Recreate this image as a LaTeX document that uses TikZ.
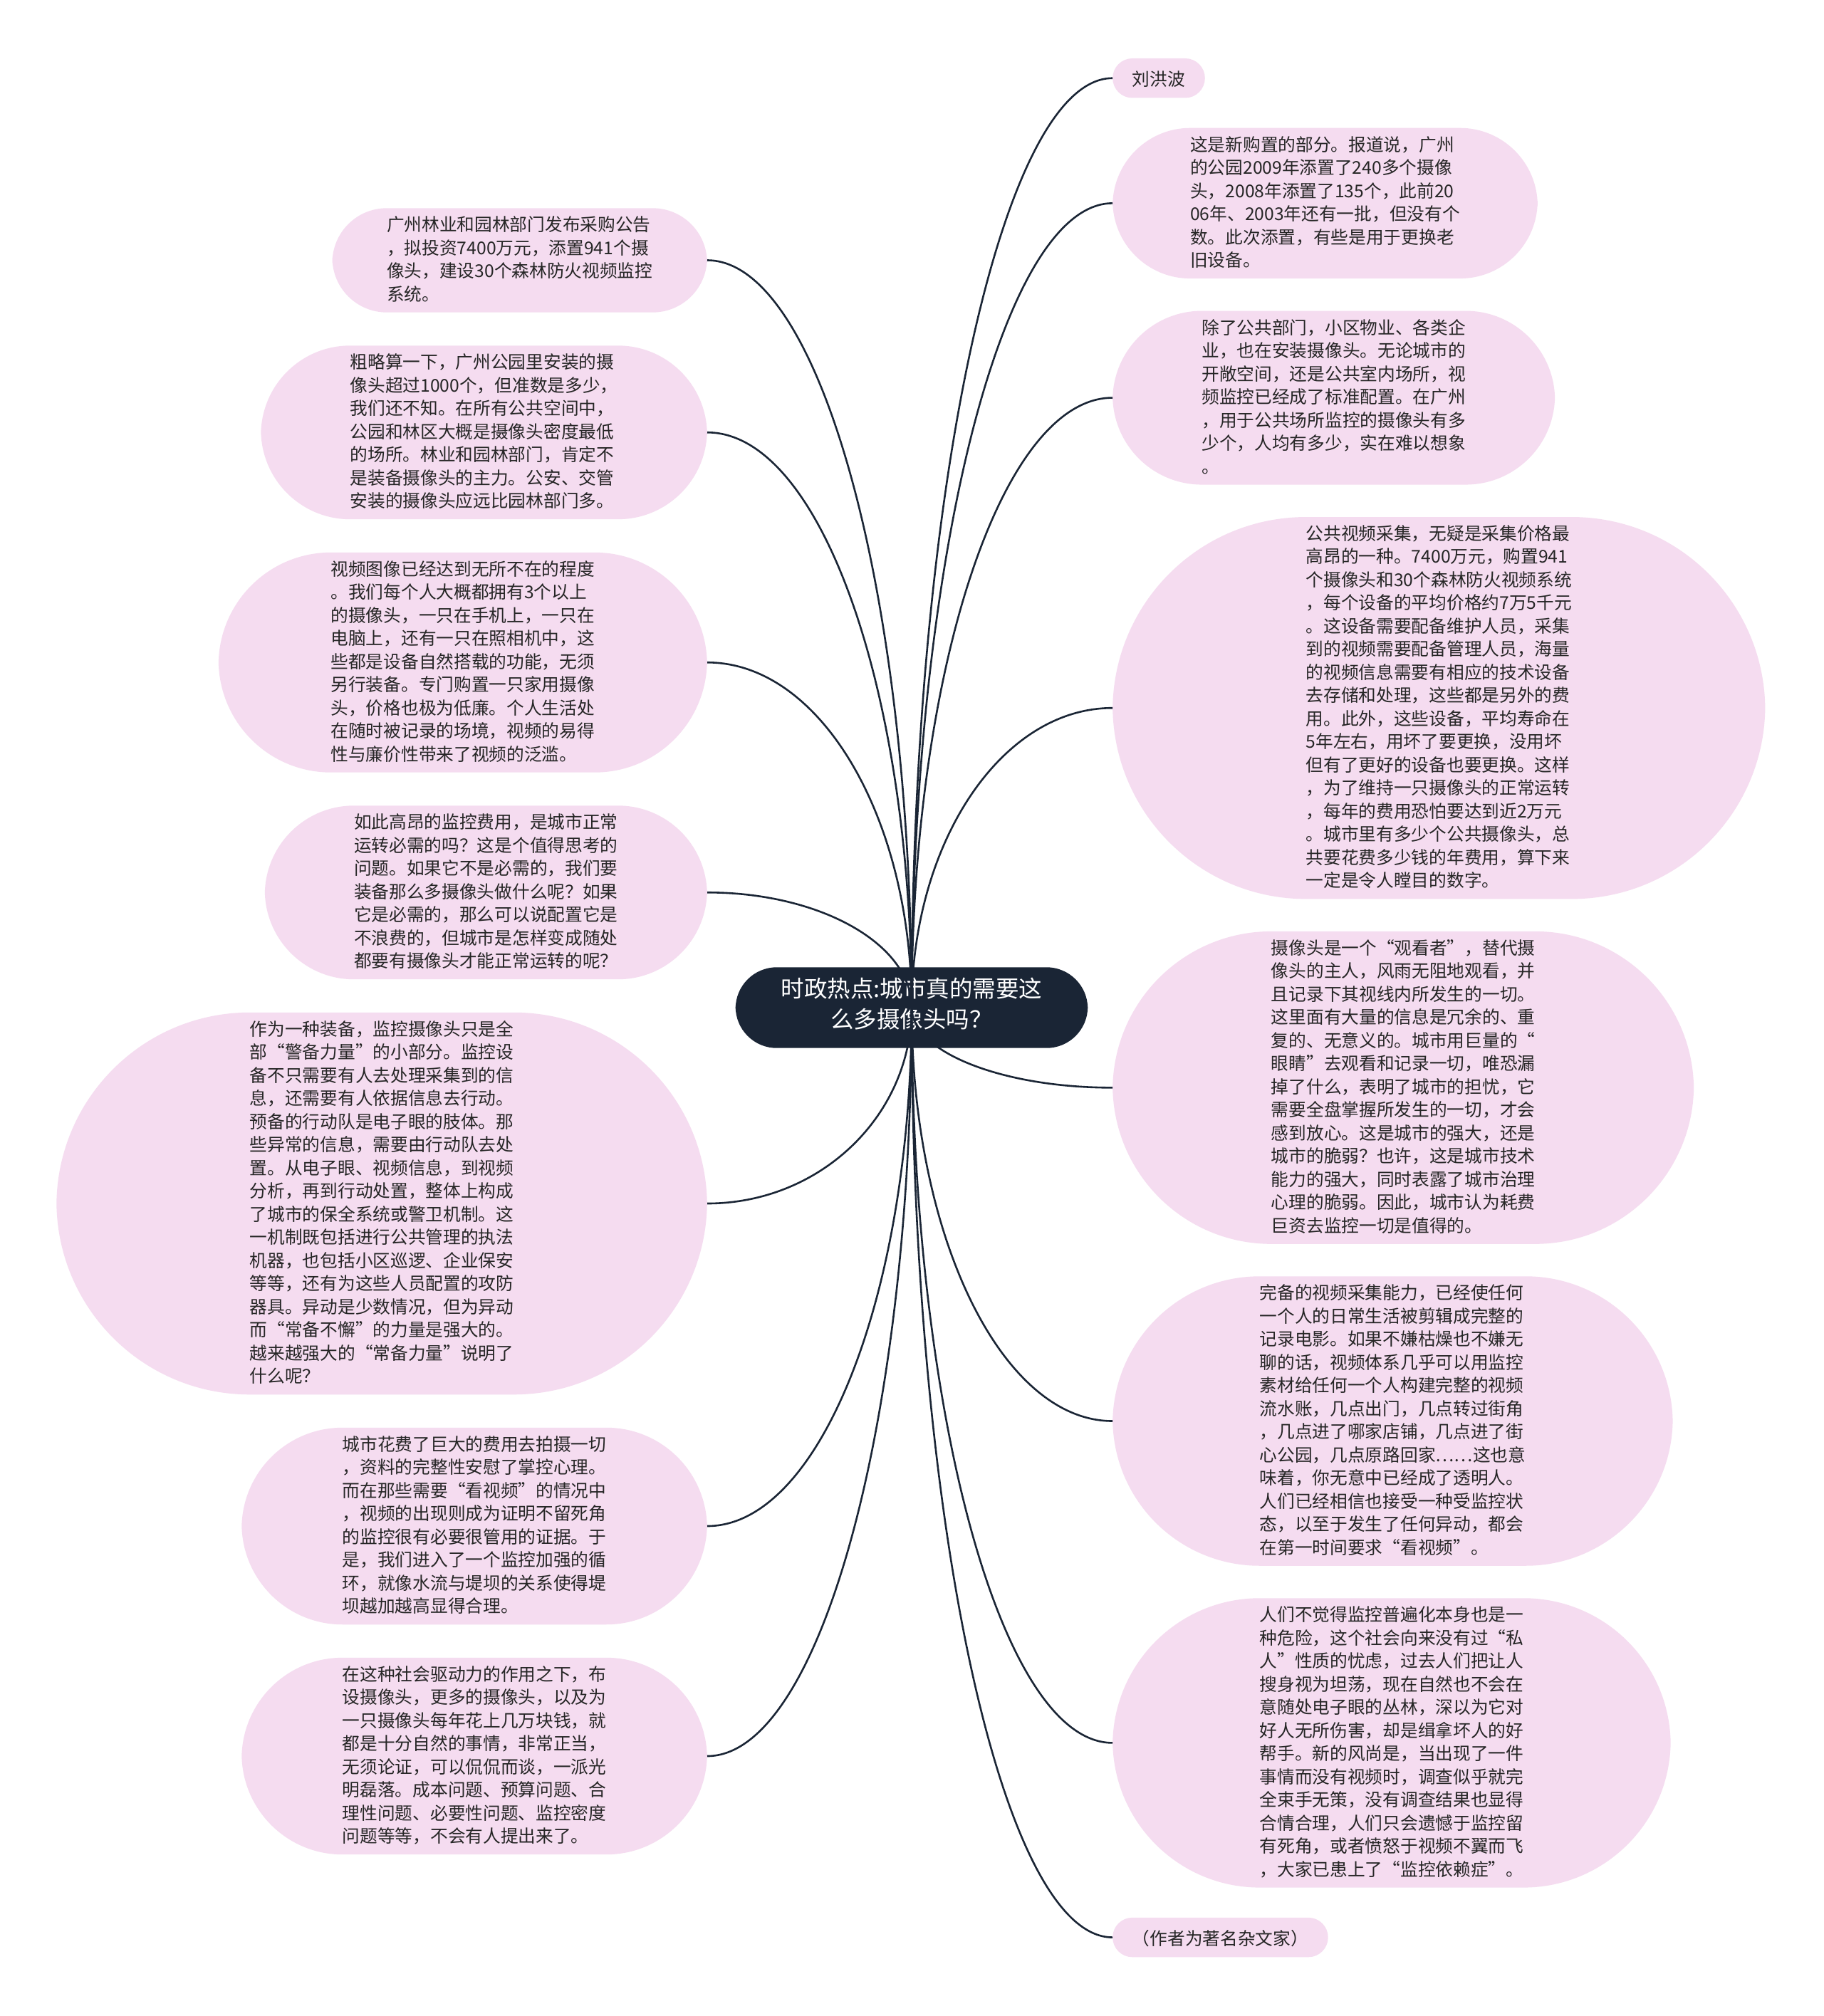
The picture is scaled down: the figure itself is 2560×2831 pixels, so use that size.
\documentclass[tikz,border=0pt]{standalone}
\usepackage{fontspec}
\newfontfamily\cjk{Noto Sans CJK SC}
\usetikzlibrary{calc}
\definecolor{pinkfill}{RGB}{245,220,240}
\definecolor{navy}{RGB}{26,37,53}
\definecolor{txt}{RGB}{38,38,38}
\newcommand\leaftop{\rule{0pt}{27.5pt}}
\newcommand\leafbot{\rule[-5pt]{0pt}{5pt}}
\begin{document}
\begin{tikzpicture}[x=1pt,y=-1pt,
  leaf/.style={rectangle, fill=pinkfill, draw=none, inner ysep=11.5pt,
    align=left, text=txt, font=\cjk\fontsize{24.7}{32.5}\selectfont,
    execute at begin node=\leaftop, execute at end node=\leafbot},
  pad/.style={inner xsep=#1, rounded corners=#1},
  rootbox/.style={rectangle, rounded corners=58pt, fill=navy, draw=none, text=white, align=center,
    font=\cjk\fontsize{32.5}{43}\selectfont, inner xsep=64pt, inner ysep=15pt,
    execute at begin node=\strut, execute at end node=\strut},
  conn/.style={draw=navy, line width=2.6pt}]
\fill[white] (0,0) rectangle (2560,2831);
\useasboundingbox (0,0) rectangle (2560,2831);

\node[rootbox] (root) at (1280,1415) {时政热点:城市真的需要这\\么多摄像头吗？};

% left column
\node[leaf, pad=76.5pt, anchor=east] (L1) at (993,365.5) {广州林业和园林部门发布采购公告\\，拟投资7400万元，添置941个摄\\像头，建设30个森林防火视频监控\\系统。};
\node[leaf, pad=125.25pt, anchor=east] (L2) at (993,607.25) {粗略算一下，广州公园里安装的摄\\像头超过1000个，但准数是多少，\\我们还不知。在所有公共空间中，\\公园和林区大概是摄像头密度最低\\的场所。林业和园林部门，肯定不\\是装备摄像头的主力。公安、交管\\安装的摄像头应远比园林部门多。};
\node[leaf, pad=157.75pt, anchor=east] (L3) at (993,930.25) {视频图像已经达到无所不在的程度\\。我们每个人大概都拥有3个以上\\的摄像头，一只在手机上，一只在\\电脑上，还有一只在照相机中，这\\些都是设备自然搭载的功能，无须\\另行装备。专门购置一只家用摄像\\头，价格也极为低廉。个人生活处\\在随时被记录的场境，视频的易得\\性与廉价性带来了视频的泛滥。};
\node[leaf, pad=125.25pt, anchor=east] (L4) at (993,1253.25) {如此高昂的监控费用，是城市正常\\运转必需的吗？这是个值得思考的\\问题。如果它不是必需的，我们要\\装备那么多摄像头做什么呢？如果\\它是必需的，那么可以说配置它是\\不浪费的，但城市是怎样变成随处\\都要有摄像头才能正常运转的呢？};
\node[leaf, pad=271.5pt, anchor=east] (L5) at (993,1690) {作为一种装备，监控摄像头只是全\\部“警备力量”的小部分。监控设\\备不只需要有人去处理采集到的信\\息，还需要有人依据信息去行动。\\预备的行动队是电子眼的肢体。那\\些异常的信息，需要由行动队去处\\置。从电子眼、视频信息，到视频\\分析，再到行动处置，整体上构成\\了城市的保全系统或警卫机制。这\\一机制既包括进行公共管理的执法\\机器，也包括小区巡逻、企业保安\\等等，还有为这些人员配置的攻防\\器具。异动是少数情况，但为异动\\而“常备不懈”的力量是强大的。\\越来越强大的“常备力量”说明了\\什么呢？};
\node[leaf, pad=141.5pt, anchor=east] (L6) at (993,2143) {城市花费了巨大的费用去拍摄一切\\，资料的完整性安慰了掌控心理。\\而在那些需要“看视频”的情况中\\，视频的出现则成为证明不留死角\\的监控很有必要很管用的证据。于\\是，我们进入了一个监控加强的循\\环，就像水流与堤坝的关系使得堤\\坝越加越高显得合理。};
\node[leaf, pad=141.5pt, anchor=east] (L7) at (993,2466) {在这种社会驱动力的作用之下，布\\设摄像头，更多的摄像头，以及为\\一只摄像头每年花上几万块钱，就\\都是十分自然的事情，非常正当，\\无须论证，可以侃侃而谈，一派光\\明磊落。成本问题、预算问题、合\\理性问题、必要性问题、监控密度\\问题等等，不会有人提出来了。};

% right column
\node[leaf, pad=27.75pt, anchor=west] (R0) at (1562,109.75) {刘洪波};
\node[leaf, pad=109pt, anchor=west] (R1) at (1562,285.4) {这是新购置的部分。报道说，广州\\的公园2009年添置了240多个摄像\\头，2008年添置了135个，此前20\\06年、2003年还有一批，但没有个\\数。此次添置，有些是用于更换老\\旧设备。};
\node[leaf, pad=125.25pt, anchor=west] (R2) at (1562,558.55) {除了公共部门，小区物业、各类企\\业，也在安装摄像头。无论城市的\\开敞空间，还是公共室内场所，视\\频监控已经成了标准配置。在广州\\，用于公共场所监控的摄像头有多\\少个，人均有多少，实在难以想象\\。};
\node[leaf, pad=271.5pt, anchor=west] (R3) at (1562,994.2) {公共视频采集，无疑是采集价格最\\高昂的一种。7400万元，购置941\\个摄像头和30个森林防火视频系统\\，每个设备的平均价格约7万5千元\\。这设备需要配备维护人员，采集\\到的视频需要配备管理人员，海量\\的视频信息需要有相应的技术设备\\去存储和处理，这些都是另外的费\\用。此外，这些设备，平均寿命在\\5年左右，用坏了要更换，没用坏\\但有了更好的设备也要更换。这样\\，为了维持一只摄像头的正常运转\\，每年的费用恐怕要达到近2万元\\。城市里有多少个公共摄像头，总\\共要花费多少钱的年费用，算下来\\一定是令人瞠目的数字。};
\node[leaf, pad=222.75pt, anchor=west] (R4) at (1562,1527.35) {摄像头是一个“观看者”，替代摄\\像头的主人，风雨无阻地观看，并\\且记录下其视线内所发生的一切。\\这里面有大量的信息是冗余的、重\\复的、无意义的。城市用巨量的“\\眼睛”去观看和记录一切，唯恐漏\\掉了什么，表明了城市的担忧，它\\需要全盘掌握所发生的一切，才会\\感到放心。这是城市的强大，还是\\城市的脆弱？也许，这是城市技术\\能力的强大，同时表露了城市治理\\心理的脆弱。因此，城市认为耗费\\巨资去监控一切是值得的。};
\node[leaf, pad=206.5pt, anchor=west] (R5) at (1562,1995.5) {完备的视频采集能力，已经使任何\\一个人的日常生活被剪辑成完整的\\记录电影。如果不嫌枯燥也不嫌无\\聊的话，视频体系几乎可以用监控\\素材给任何一个人构建完整的视频\\流水账，几点出门，几点转过街角\\，几点进了哪家店铺，几点进了街\\心公园，几点原路回家……这也意\\味着，你无意中已经成了透明人。\\人们已经相信也接受一种受监控状\\态，以至于发生了任何异动，都会\\在第一时间要求“看视频”。};
\node[leaf, pad=206.5pt, anchor=west] (R6) at (1562,2447.4) {人们不觉得监控普遍化本身也是一\\种危险，这个社会向来没有过“私\\人”性质的忧虑，过去人们把让人\\搜身视为坦荡，现在自然也不会在\\意随处电子眼的丛林，深以为它对\\好人无所伤害，却是缉拿坏人的好\\帮手。新的风尚是，当出现了一件\\事情而没有视频时，调查似乎就完\\全束手无策，没有调查结果也显得\\合情合理，人们只会遗憾于监控留\\有死角，或者愤怒于视频不翼而飞\\，大家已患上了“监控依赖症”。};
\node[leaf, pad=27.75pt, anchor=west] (R7) at (1562,2720.55) {（作者为著名杂文家）};

% connectors
\foreach \n in {L1,L2,L3,L4,L5,L6,L7} {
  \draw[conn] (root.center) .. controls ($(root.center)!0.552!(root.center|-\n.east)$) and ($(\n.east)!0.552!(root.center|-\n.east)$) .. (\n.east);
}
\foreach \n in {R0,R1,R2,R3,R4,R5,R6,R7} {
  \draw[conn] (root.center) .. controls ($(root.center)!0.552!(root.center|-\n.west)$) and ($(\n.west)!0.552!(root.center|-\n.west)$) .. (\n.west);
}
\end{tikzpicture}
\end{document}
